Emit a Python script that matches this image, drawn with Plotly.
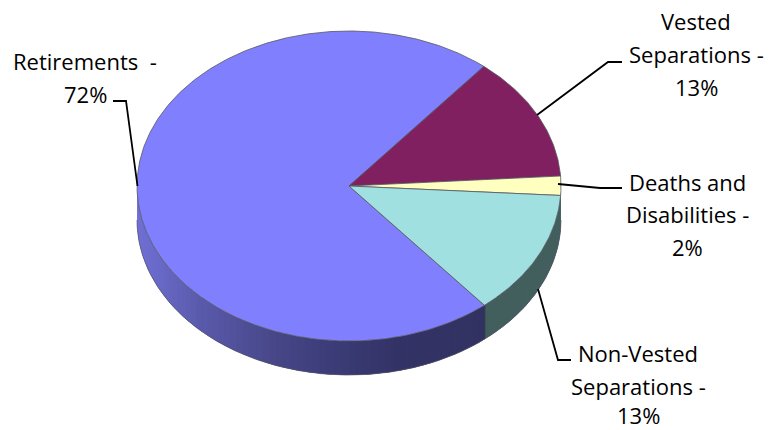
import numpy as np
import plotly.graph_objects as go

categories = ["Retirements", "Vested Separations", "Deaths and Disabilities", "Non-Vested Separations"]
values = [72, 13, 2, 13]
colors = ["#8080ff", "#802060", "#ffffc0", "#a0e0e0"]
side_stops_x = [137, 200, 270, 330, 400, 486]
side_stops_r = [112, 90, 72, 60, 50, 50]
side_stops_g = [112, 90, 72, 60, 50, 50]
side_stops_b = [214, 172, 138, 120, 102, 98]
side_nonvested = "#425f5e"

label_lines = [
    ("Retirements  -", 85, 61), ("72%", 85, 94),
    ("Vested", 696, 21), ("Separations -", 696, 54), ("13%", 696, 87),
    ("Deaths and", 687, 182), ("Disabilities -", 687, 214), ("2%", 687, 247),
    ("Non-Vested", 638, 353), ("Separations -", 638, 386), ("13%", 638, 415),
]
leaders = [
    "M 137.5 186 L 126 101 L 113 101",
    "M 537 115 L 608 62 L 622 62",
    "M 558 184 L 600 188 L 622 188",
    "M 538 289 L 558 360 L 571 360",
]

CX, CY, RX, RY, DEPTH = 349, 186, 212, 155, 34
START = 140.3

def pt(deg):
    a = np.radians(deg)
    return CX + RX * np.sin(a), CY - RY * np.cos(a)

fig = go.Figure()

# side wall, from the values' angles
fractions = np.cumsum([0] + values) / sum(values) * 360 + START
nv_end = fractions[0]
angles = np.arange(90, 270.01, 2.0)
for a0, a1 in zip(angles[:-1], angles[1:]):
    seg = np.linspace(a0, min(a1 + 2, 270), 5)
    x, y = pt(seg)
    mid, _ = pt((a0 + a1) / 2)
    if (a0 + a1) / 2 < nv_end:
        col = side_nonvested
    else:
        r = np.interp(mid, side_stops_x[::1], side_stops_r)
        g = np.interp(mid, side_stops_x, side_stops_g)
        b = np.interp(mid, side_stops_x, side_stops_b)
        col = f"rgb({r:.0f},{g:.0f},{b:.0f})"
    xs = np.r_[x, x[::-1]]
    ys = np.r_[y, (y + DEPTH)[::-1]]
    fig.add_trace(go.Scatter(x=xs, y=ys, mode="none", fill="toself", fillcolor=col,
                             hoverinfo="skip", showlegend=False))

# outer edge of wall
seg = np.linspace(90, 270, 200)
x, y = pt(seg)
fig.add_trace(go.Scatter(x=x, y=y + DEPTH, mode="lines", line=dict(color="#555566", width=0.7),
                         hoverinfo="skip", showlegend=False))
x, y = pt(np.array([nv_end, nv_end]))
fig.add_trace(go.Scatter(x=x, y=y + np.array([0, DEPTH]), mode="lines",
                         line=dict(color="#2f3f40", width=0.7), hoverinfo="skip", showlegend=False))

# top face
for name, col, a0, a1 in zip(categories, colors, fractions[:-1], fractions[1:]):
    seg = np.linspace(a0, a1, int(a1 - a0) * 2 + 3)
    x, y = pt(seg)
    fig.add_trace(go.Scatter(x=np.r_[CX, x, CX], y=np.r_[CY, y, CY], mode="lines", fill="toself",
                             fillcolor=col, line=dict(color="#555560", width=0.8),
                             name=name, hoverinfo="name", showlegend=False))

for text, lx, ly in label_lines:
    fig.add_annotation(x=lx, y=ly, text=text, showarrow=False, xanchor="center", yanchor="middle",
                       font=dict(family="Open Sans", size=22, color="#000000"))

for p in leaders:
    fig.add_shape(type="path", path=p, line=dict(color="#000000", width=1.8), layer="above")

fig.update_layout(
    width=772, height=430, margin=dict(l=0, r=0, t=0, b=0),
    paper_bgcolor="white", plot_bgcolor="white",
    xaxis=dict(range=[0, 772], visible=False, fixedrange=True),
    yaxis=dict(range=[430, 0], visible=False, fixedrange=True),
    showlegend=False,
)
fig.write_html("out.html", post_script="document.body.style.margin='0';",
               config={"displayModeBar": False})
